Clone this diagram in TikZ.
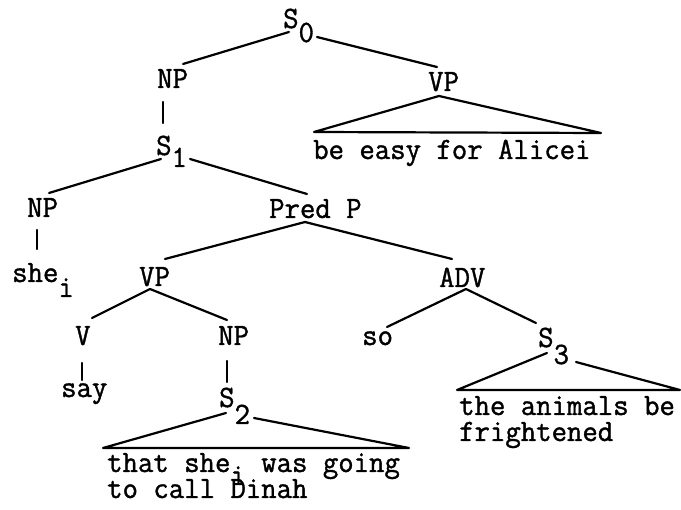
\documentclass[tikz,border=0pt]{standalone}
\usepackage{fontspec}
\newfontfamily\tw[FakeStretch=0.965,FakeBold=1.2]{Latin Modern Mono}
\begin{document}
\begin{tikzpicture}[x=1pt,y=-1pt,
  lbl/.style={font=\tw\fontsize{31}{31}\selectfont, inner sep=0pt, anchor=base west},
  edge/.style={line width=2.2pt, line cap=round, line join=round}]
\useasboundingbox (0,0) rectangle (681,510);
% nodes
\node[lbl] (S0)   at (283,28)  {S\raisebox{-14pt}{0}};
\node[lbl] (NPa)  at (157,88)  {NP};
\node[lbl] (VPa)  at (428,91)  {VP};
\node[lbl] (Lvpa) at (313,159) {be easy for Alicei};
\node[lbl] (S1)   at (156,155) {S\raisebox{-12pt}{1}};
\node[lbl] (NPb)  at (27,217)  {NP};
\node[lbl] (PredP) at (269,218) {Pred P};
\node[lbl] (she)  at (12,282)  {she\raisebox{-15pt}{i}};
\node[lbl] (VPb)  at (139,286) {VP};
\node[lbl] (ADV)  at (439,287) {ADV};
\node[lbl] (V)    at (75,345)  {V};
\node[lbl] (NPc)  at (218,345) {NP};
\node[lbl] (so)   at (362,345) {so};
\node[lbl] (S3)   at (538,347) {S\raisebox{-17pt}{3}};
\node[lbl] (say)  at (61,397)  {say};
\node[lbl] (S2)   at (219,407) {S\raisebox{-17pt}{2}};
\node[lbl] (Lsa)  at (107,472) {that she\raisebox{-13pt}{i} was going};
\node[lbl] (Lsb)  at (107,498) {to call Dinah};
\node[lbl] (Lta)  at (459,415) {the animals be};
\node[lbl] (Ltb)  at (459,441) {frightened};
% connectors
\draw[edge] ([shift={(6,4)}]S0.base west) -- ([shift={(26,-24)}]NPa.base west);
\draw[edge] ([shift={(34,9)}]S0.base west) -- ([shift={(9,-24)}]VPa.base west);
\draw[edge] ([shift={(6,14)}]NPa.base west) -- ([shift={(7,-32)}]S1.base west);
\draw[edge] ([shift={(11,5)}]VPa.base west) -- ([shift={(1,-27)}]Lvpa.base west)
  -- ([shift={(288,-26)}]Lvpa.base west) -- cycle;
\draw[edge] ([shift={(5,4)}]S1.base west) -- ([shift={(22,-24)}]NPb.base west);
\draw[edge] ([shift={(34,4)}]S1.base west) -- ([shift={(38,-24)}]PredP.base west);
\draw[edge] ([shift={(10,13)}]NPb.base west) -- ([shift={(25,-33)}]she.base west);
\draw[edge] ([shift={(36,4)}]PredP.base west) -- ([shift={(26,-27)}]VPb.base west);
\draw[edge] ([shift={(36,4)}]PredP.base west) -- ([shift={(13,-28)}]ADV.base west);
\draw[edge] ([shift={(11,3)}]VPb.base west) -- ([shift={(17,-27)}]V.base west);
\draw[edge] ([shift={(11,3)}]VPb.base west) -- ([shift={(9,-25)}]NPc.base west);
\draw[edge] ([shift={(27,2)}]ADV.base west) -- ([shift={(25,-18)}]so.base west);
\draw[edge] ([shift={(27,2)}]ADV.base west) -- ([shift={(-2,-24)}]S3.base west);
\draw[edge] ([shift={(7,18)}]V.base west) -- ([shift={(21,-17)}]say.base west);
\draw[edge] ([shift={(9,16)}]NPc.base west) -- ([shift={(8,-25)}]S2.base west);
\draw[edge] ([shift={(7,6)}]S2.base west) -- ([shift={(-4,-24)}]Lsa.base west)
  -- ([shift={(302,-24)}]Lsa.base west) -- ([shift={(35,11)}]S2.base west);
\draw[edge] ([shift={(9,6)}]S3.base west) -- ([shift={(-2,-25)}]Lta.base west)
  -- ([shift={(221,-25)}]Lta.base west) -- ([shift={(38,15)}]S3.base west);
\end{tikzpicture}
\end{document}
